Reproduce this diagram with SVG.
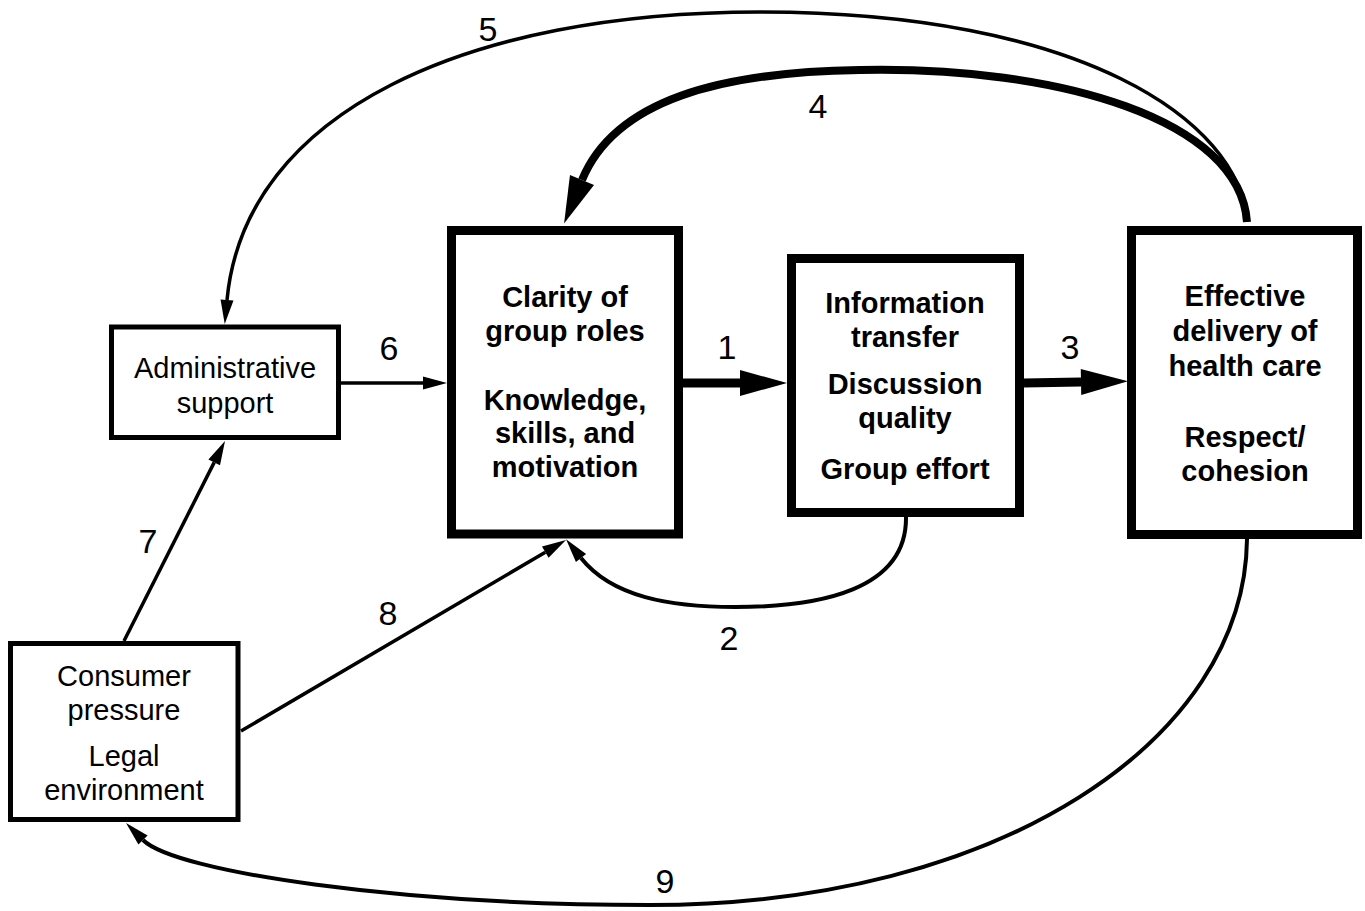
<svg xmlns="http://www.w3.org/2000/svg" width="1365" height="911" viewBox="0 0 1365 911">
<style>
.box{fill:#fff;stroke:#000}
.thick{stroke-width:9}
.thin{stroke-width:5}
.t{font-family:"Liberation Sans",Arial,sans-serif;font-size:29px;text-anchor:middle;fill:#000}
.b{font-weight:bold}
.num{font-family:"Liberation Sans",Arial,sans-serif;font-size:34px;text-anchor:middle;fill:#000}
.c{fill:none;stroke:#000}
</style>
<defs>
<marker id="big" markerUnits="userSpaceOnUse" viewBox="0 -14 47 28" markerWidth="47" markerHeight="28" refX="0" refY="0" orient="auto" overflow="visible">
<path d="M0,-13 L47,0 L0,13 z" fill="#000"/>
</marker>
<marker id="small" markerUnits="userSpaceOnUse" viewBox="0 -7 24 14" markerWidth="24" markerHeight="14" refX="0" refY="0" orient="auto" overflow="visible">
<path d="M0,-6.5 L24,0 L0,6.5 z" fill="#000"/>
</marker>
</defs>
<g id="connectors">
<path id="c5" class="c" stroke-width="3.5" d="M1247,222 C1240,120 1080,12 760,12 C470,12 245,110 227,300" marker-end="url(#small)"/>
<path id="c4" class="c" stroke-width="8" d="M1247,222 C1240,120 1060,66 860,70 C720,72 615,100 582,180" marker-end="url(#big)"/>
<path id="c1" class="c" stroke-width="9" d="M683,383 L740,383" marker-end="url(#big)"/>
<path id="c3" class="c" stroke-width="9" d="M1024,383 L1081,382" marker-end="url(#big)"/>
<path id="c6" class="c" stroke-width="3.5" d="M341,383 L423,383" marker-end="url(#small)"/>
<path id="c7" class="c" stroke-width="3.5" d="M124,641 L214.2,462.4" marker-end="url(#small)"/>
<path id="c8" class="c" stroke-width="3.5" d="M241,731 L545.3,552.2" marker-end="url(#small)"/>
<path id="c2" class="c" stroke-width="4" d="M906,517 C907,590 820,607 735,607 C670,607 612,597 581,558" marker-end="url(#small)"/>
<path id="c9" class="c" stroke-width="4" d="M1247,539 C1245,740 1000,905 650,905 C400,905 175,872 143,840" marker-end="url(#small)"/>
<text class="num" x="488" y="41">5</text>
<text class="num" x="818" y="118">4</text>
<text class="num" x="389" y="360">6</text>
<text class="num" x="727" y="359">1</text>
<text class="num" x="1070" y="359">3</text>
<text class="num" x="148" y="553">7</text>
<text class="num" x="388" y="625">8</text>
<text class="num" x="729" y="650">2</text>
<text class="num" x="665" y="893">9</text>
</g>
<g id="admin">
<rect class="box thin" x="111.5" y="327" width="227" height="110.5"/>
<text class="t" x="225" y="378">Administrative</text>
<text class="t" x="225" y="413">support</text>
</g>
<g id="consumer">
<rect class="box thin" x="10.5" y="643.5" width="227.5" height="176"/>
<text class="t" x="124" y="686">Consumer</text>
<text class="t" x="124" y="720">pressure</text>
<text class="t" x="124" y="766">Legal</text>
<text class="t" x="124" y="800">environment</text>
</g>
<g id="clarity">
<rect class="box thick" x="451.5" y="230.5" width="227" height="303.5"/>
<text class="t b" x="565" y="307">Clarity of</text>
<text class="t b" x="565" y="341">group roles</text>
<text class="t b" x="565" y="410">Knowledge,</text>
<text class="t b" x="565" y="443">skills, and</text>
<text class="t b" x="565" y="477">motivation</text>
</g>
<g id="info">
<rect class="box thick" x="791.5" y="258.5" width="228" height="254"/>
<text class="t b" x="905" y="313">Information</text>
<text class="t b" x="905" y="347">transfer</text>
<text class="t b" x="905" y="394">Discussion</text>
<text class="t b" x="905" y="428">quality</text>
<text class="t b" x="905" y="479">Group effort</text>
</g>
<g id="effective">
<rect class="box thick" x="1131.5" y="230.5" width="226" height="304"/>
<text class="t b" x="1245" y="306">Effective</text>
<text class="t b" x="1245" y="341">delivery of</text>
<text class="t b" x="1245" y="376">health care</text>
<text class="t b" x="1245" y="447">Respect/</text>
<text class="t b" x="1245" y="481">cohesion</text>
</g>
</svg>
